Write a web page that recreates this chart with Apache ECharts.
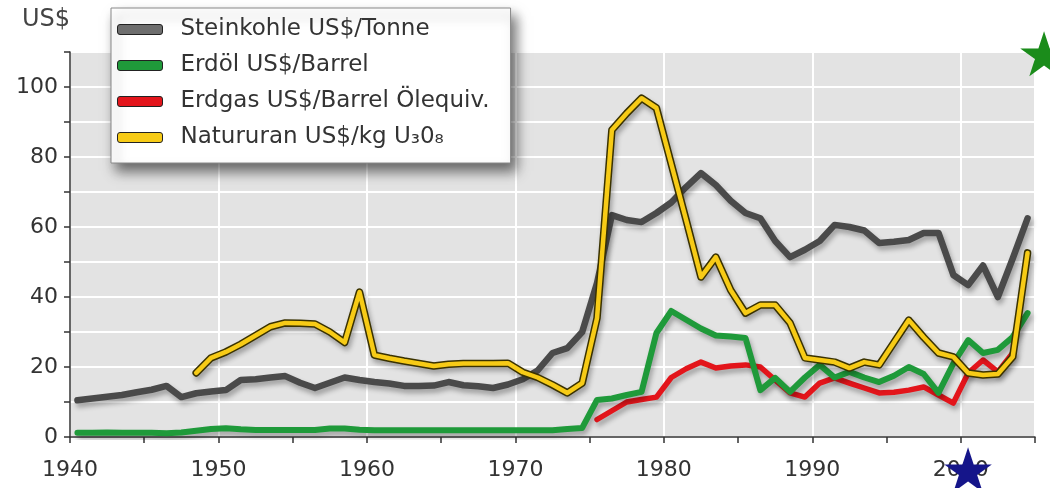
<!DOCTYPE html>
<html>
<head>
<meta charset="utf-8">
<title>Rohstoffpreise</title>
<script src="https://cdn.jsdelivr.net/npm/echarts@6.0.0/dist/echarts.min.js"></script>
<style>
    html, body { margin: 0; padding: 0; background: #fff; }
    #chart { width: 1050px; height: 488px; }
</style>
</head>
<body>
<div id="chart"></div>
<script>
// Jahreswerte, jeweils ab dem angegebenen Startjahr
var coalFrom = 1940;
var coal = [10.5, 11, 11.5, 12, 12.8, 13.5, 14.6, 11.4, 12.5, 13,
    13.4, 16.3, 16.5, 17, 17.4, 15.5, 14, 15.5, 17, 16.3,
    15.7, 15.3, 14.6, 14.6, 14.7, 15.7, 14.8, 14.5, 14, 15,
    16.5, 19, 24, 25.4, 30, 44, 63.4, 62, 61.4, 64,
    67, 71.4, 75.4, 72, 67.5, 64, 62.5, 56, 51.4, 53.5,
    56, 60.6, 60, 59, 55.4, 55.8, 56.3, 58.3, 58.3, 46.3,
    43.4, 49, 40, 51, 62.5];

var oilFrom = 1940;
var oil = [1.2, 1.2, 1.3, 1.2, 1.2, 1.2, 1.1, 1.3, 1.8, 2.3,
    2.5, 2.2, 2, 2, 2, 2, 2, 2.4, 2.4, 2.1,
    1.9, 1.9, 1.9, 1.9, 1.9, 1.9, 1.9, 1.9, 1.9, 1.9,
    1.9, 1.9, 1.9, 2.3, 2.6, 10.6, 11, 12, 12.9, 29.7,
    36, 33.5, 31, 29, 28.7, 28.3, 13.4, 16.9, 12.9, 17,
    20.6, 17, 18.6, 17, 15.7, 17.5, 20, 18, 12.6, 21,
    27.7, 24, 24.9, 28.6, 35.4];

var gasFrom = 1975;
var gas = [5, 7.5, 10, 10.7, 11.4, 17, 19.5, 21.4, 19.7, 20.3,
    20.6, 20, 16.3, 12.6, 11.4, 15.4, 16.9, 15.4, 14, 12.6,
    12.8, 13.4, 14.3, 12, 9.7, 18.3, 22, 18.6, 24];

var uraniumFrom = 1948;
var uranium = [18.3, 22.6, 24.3, 26.5, 29, 31.5, 32.6, 32.5, 32.3, 30,
    27, 41.4, 23.4, 22.5, 21.7, 21, 20.3, 20.8, 21, 21,
    21, 21.1, 18.5, 17, 14.9, 12.6, 15.4, 34, 87.7, 92.5,
    96.8, 94, 78, 62, 45.7, 51.4, 42, 35.4, 37.7, 37.7,
    32.6, 22.6, 22, 21.4, 19.7, 21.4, 20.6, 27, 33.4, 28.5,
    24, 22.9, 18.3, 17.7, 18, 22.9, 52.6];

var seriesNames = ['Steinkohle US$/Tonne', 'Erdöl US$/Barrel', 'Erdgas US$/Barrel Ölequiv.', 'Natururan US$/kg U₃0₈'];

var fontName = 'DejaVu Sans';

// Jahresmittel liegen in der Vorlage in der Jahresmitte
function toPoints(from, values) {
    return values.map(function (v, i) {
        return [from + i + 0.5, v];
    });
}

function lineShadow(style) {
    style.shadowBlur = 5;
    style.shadowColor = 'rgba(0, 0, 0, 0.3)';
    style.shadowOffsetX = 2;
    style.shadowOffsetY = 4;
    return style;
}

function star(x, y, color) {
    return {
        type: 'text',
        x: x,
        y: y,
        z: 100,
        style: {
            text: '★',
            fontFamily: fontName,
            fontSize: 62,
            fill: color,
            align: 'center',
            verticalAlign: 'middle'
        }
    };
}

function initChart() {
    var chart = echarts.init(document.getElementById('chart'));
    var option = {
        animation: false,
        title: {
            text: 'US$',
            left: 17,
            top: 3,
            textStyle: {
                fontFamily: fontName,
                fontSize: 24,
                fontWeight: 'normal',
                color: '#444'
            }
        },
        legend: {
            orient: 'vertical',
            left: 111,
            top: 8,
            padding: [10, 21, 14, 6],
            itemGap: 13,
            itemWidth: 45,
            itemHeight: 10,
            icon: 'roundRect',
            backgroundColor: '#fff',
            borderColor: '#888',
            borderWidth: 1,
            shadowBlur: 12,
            shadowColor: 'rgba(0, 0, 0, 0.55)',
            shadowOffsetX: 5,
            shadowOffsetY: 8,
            itemStyle: {
                borderColor: '#222',
                borderWidth: 1
            },
            textStyle: {
                fontFamily: fontName,
                fontSize: 23,
                color: '#333',
                padding: [0, 0, 0, 13]
            },
            data: seriesNames
        },
        grid: {
            left: 70,
            right: 15,
            top: 52,
            bottom: 51,
            show: true,
            backgroundColor: '#e3e3e3',
            borderColor: '#777',
            borderWidth: 1
        },
        xAxis: [{
            type: 'value',
            min: 1940,
            max: 2005,
            interval: 5,
            axisLine: {
                lineStyle: { color: '#333', width: 1.5 }
            },
            axisTick: {
                length: 6,
                lineStyle: { color: '#333', width: 1.5 }
            },
            axisLabel: {
                fontFamily: fontName,
                fontSize: 22,
                color: '#333',
                margin: 22,
                formatter: function (v) {
                    return v % 10 === 0 ? String(v) : '';
                }
            },
            splitLine: { show: false }
        }, {
            type: 'value',
            min: 1940,
            max: 2005,
            interval: 10,
            position: 'bottom',
            axisLine: { show: false },
            axisTick: { show: false },
            axisLabel: { show: false },
            splitLine: {
                lineStyle: { color: '#fff', width: 2 }
            }
        }],
        yAxis: {
            type: 'value',
            min: 0,
            max: 110,
            interval: 10,
            axisLine: {
                show: true,
                lineStyle: { color: '#333', width: 1.5 }
            },
            axisTick: {
                show: true,
                length: 6,
                lineStyle: { color: '#333', width: 1.5 }
            },
            axisLabel: {
                fontFamily: fontName,
                fontSize: 22,
                color: '#333',
                margin: 12,
                formatter: function (v) {
                    return v % 20 === 0 ? String(v) : '';
                }
            },
            splitLine: {
                lineStyle: { color: '#fff', width: 2 }
            }
        },
        series: [{
            name: seriesNames[0],
            type: 'line',
            color: '#6e6e6e',
            symbol: 'none',
            z: 3,
            lineStyle: lineShadow({ color: '#4a4a4a', width: 6.5, join: 'round', cap: 'round' }),
            data: toPoints(coalFrom, coal)
        }, {
            name: seriesNames[2],
            type: 'line',
            color: '#e3151b',
            symbol: 'none',
            z: 4,
            lineStyle: lineShadow({ color: '#e3151b', width: 5.5, join: 'round', cap: 'round' }),
            data: toPoints(gasFrom, gas)
        }, {
            name: seriesNames[1],
            type: 'line',
            color: '#1f9a3a',
            symbol: 'none',
            z: 5,
            lineStyle: lineShadow({ color: '#1f9a3a', width: 6, join: 'round', cap: 'round' }),
            data: toPoints(oilFrom, oil)
        }, {
            // dunkler Rand der Uran-Linie
            name: 'Natururan Rand',
            type: 'line',
            color: '#3a3200',
            symbol: 'none',
            silent: true,
            z: 6,
            lineStyle: lineShadow({ color: '#3a3200', width: 7.5, join: 'round', cap: 'round' }),
            data: toPoints(uraniumFrom, uranium)
        }, {
            name: seriesNames[3],
            type: 'line',
            color: '#f7cb16',
            symbol: 'none',
            z: 7,
            lineStyle: { color: '#f7cb16', width: 4.5, join: 'round', cap: 'round' },
            data: toPoints(uraniumFrom, uranium)
        }],
        graphic: [
            star(1044, 60, '#1b8c1b'),
            star(968, 476, '#15158a')
        ]
    };
    chart.setOption(option);
    return chart;
}

var chart = initChart();
window.addEventListener('resize', function () {
    chart.resize();
});
</script>
</body>
</html>
